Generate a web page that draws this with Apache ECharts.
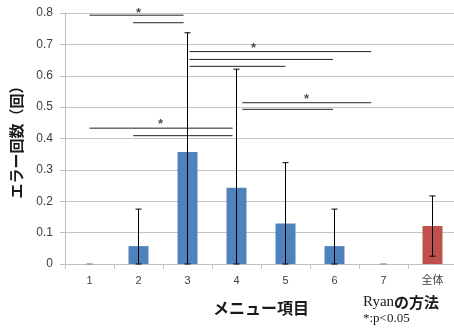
<!DOCTYPE html>
<html>
<head>
<meta charset="utf-8">
<script src="https://cdn.jsdelivr.net/npm/echarts@6/dist/echarts.min.js"></script>
<style>
  html, body { margin: 0; padding: 0; background: #fff; }
  #chart { width: 454px; height: 329px; }
</style>
</head>
<body>
<div id="chart"></div>
<script>
// Menu items on the horizontal axis
const categories = ['1', '2', '3', '4', '5', '6', '7', '全体'];
// Mean error count per menu item and its standard deviation
const means = [0, 0.057, 0.357, 0.243, 0.129, 0.057, 0, 0.121];
const stdDevs = [0, 0.118, 0.380, 0.378, 0.194, 0.118, 0, 0.096];
// Which bar is the overall summary (drawn in red)
const overallIndex = 7;
// Y axis range and step
const yMin = 0, yMax = 0.8, yStep = 0.1;

// Significance brackets: [from item index, to item index, height]
const sigLines = [
  [0.0, 1.92, 0.793],
  [0.89, 1.92, 0.769],
  [0.0, 2.92, 0.433],
  [0.89, 2.92, 0.409],
  [2.04, 5.75, 0.677],
  [2.04, 4.97, 0.652],
  [2.04, 4.00, 0.630],
  [3.12, 5.75, 0.514],
  [3.12, 4.97, 0.493]
];
// Asterisks marking significant pairs: [item index, height]
const sigStars = [
  [1.00, 0.800],
  [1.45, 0.444],
  [3.35, 0.688],
  [4.43, 0.526]
];

const errData = means.map((m, i) => [i, Math.max(0, m - stdDevs[i]), m + stdDevs[i]]);

const chart = echarts.init(document.getElementById('chart'));

const series = [
  {
    type: 'bar',
    xAxisIndex: 0,
    barWidth: 20,
    data: means.map((v, i) => ({
      value: v,
      itemStyle: { color: i === overallIndex ? '#C0504D' : '#4F81BD' }
    })),
    z: 2
  },
  {
    type: 'custom',
    xAxisIndex: 0,
    data: errData,
    z: 5,
    renderItem: function (params, api) {
      const x = api.value(0);
      const lo = api.coord([x, api.value(1)]);
      const hi = api.coord([x, api.value(2)]);
      const flat = api.value(1) === api.value(2);
      const stroke = flat ? '#9a9a9a' : '#000';
      const half = 3;
      return {
        type: 'group',
        children: [
          { type: 'line', shape: { x1: hi[0], y1: hi[1], x2: lo[0], y2: lo[1] }, style: { stroke: stroke, lineWidth: 1 } },
          { type: 'line', shape: { x1: hi[0] - half, y1: hi[1], x2: hi[0] + half, y2: hi[1] }, style: { stroke: stroke, lineWidth: 1 } },
          { type: 'line', shape: { x1: lo[0] - half, y1: lo[1], x2: lo[0] + half, y2: lo[1] }, style: { stroke: stroke, lineWidth: 1 } }
        ]
      };
    }
  }
];

sigLines.forEach(function (s) {
  series.push({
    type: 'line',
    xAxisIndex: 1,
    data: [[s[0], s[2]], [s[1], s[2]]],
    symbol: 'none',
    silent: true,
    clip: false,
    lineStyle: { color: '#222', width: 1 },
    z: 4
  });
});

series.push({
  type: 'scatter',
  xAxisIndex: 1,
  data: sigStars,
  symbolSize: 1,
  itemStyle: { color: 'rgba(0,0,0,0)' },
  clip: false,
  silent: true,
  label: {
    show: true,
    position: 'inside',
    formatter: '*',
    color: '#222',
    fontSize: 13,
    fontFamily: 'Liberation Sans',
    fontWeight: 'bold'
  },
  z: 6
});

chart.setOption({
  animation: false,
  backgroundColor: '#fff',
  grid: { left: 65, right: -3, top: 13, bottom: 65, containLabel: false, outerBoundsMode: 'none' },
  xAxis: [
    {
      type: 'category',
      data: categories,
      axisLine: { lineStyle: { color: '#BFBFBF', width: 1 } },
      axisTick: { show: true, length: 5, lineStyle: { color: '#BFBFBF' } },
      axisLabel: { color: '#404040', fontSize: 11, margin: 11, fontFamily: 'Liberation Sans, Noto Sans CJK JP' },
      name: 'メニュー項目',
      nameLocation: 'middle',
      nameGap: 36,
      nameTextStyle: { color: '#1a1a1a', fontSize: 16, fontWeight: 'bold', fontFamily: 'Noto Sans CJK JP' }
    },
    {
      type: 'value',
      min: -0.5,
      max: 7.5,
      show: false
    }
  ],
  yAxis: {
    type: 'value',
    min: yMin,
    max: yMax,
    interval: yStep,
    axisLine: { show: true, onZero: false, lineStyle: { color: '#BFBFBF', width: 1 } },
    axisTick: { show: true, length: 5, lineStyle: { color: '#BFBFBF' } },
    splitLine: { lineStyle: { color: '#C4C4C4', width: 1 } },
    axisLabel: {
      color: '#404040',
      fontSize: 12,
      margin: 12,
      fontFamily: 'Liberation Sans',
      formatter: v => (v === 0 ? '0' : v.toFixed(1))
    },
    name: 'エラー回数（回）',
    nameLocation: 'middle',
    nameRotate: 90,
    nameGap: 41,
    nameTextStyle: { color: '#1a1a1a', fontSize: 15, fontWeight: 'bold', fontFamily: 'Noto Sans CJK JP' }
  },
  graphic: [
    {
      type: 'text',
      left: 363,
      top: 295,
      style: {
        text: '{a|Ryan}{b|の方法}',
        rich: {
          a: { fontSize: 15, fontFamily: 'Liberation Serif', fill: '#1a1a1a', color: '#1a1a1a' },
          b: { fontSize: 15, fontFamily: 'Noto Sans CJK JP', fontWeight: 'bold', fill: '#1a1a1a', color: '#1a1a1a' }
        }
      }
    },
    {
      type: 'text',
      left: 363,
      top: 312,
      style: { text: '*:p<0.05', fontSize: 13, fontFamily: 'Liberation Serif', fill: '#1a1a1a' }
    }
  ],
  series: series
});
</script>
</body>
</html>
